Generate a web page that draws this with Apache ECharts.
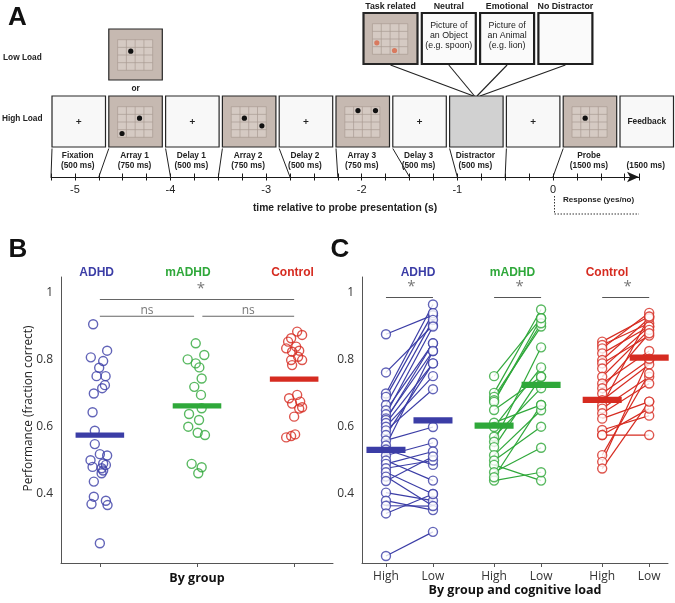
<!DOCTYPE html>
<html>
<head>
<meta charset="utf-8">
<title>Working memory task and performance</title>
<script src="https://cdn.jsdelivr.net/npm/echarts@6.0.0/dist/echarts.min.js"></script>
<style>
html,body{margin:0;padding:0;background:#fff;}
#chart{width:675px;height:603px;}
</style>
</head>
<body>
<div id="chart"></div>
<script>
// ================= DATA =================
// Panel A: trial timeline
const phaseNames = ['Fixation','Array 1','Delay 1','Array 2','Delay 2','Array 3','Delay 3','Distractor','','Probe',''];
const phaseDurations = ['(500 ms)','(750 ms)','(500 ms)','(750 ms)','(500 ms)','(750 ms)','(500 ms)','(500 ms)','','(1500 ms)','(1500 ms)'];
const phaseStarts = [-5.25,-4.75,-4.0,-3.5,-2.75,-2.25,-1.5,-1.0,-0.5,0,null]; // seconds relative to probe
const phaseScreens = ['fix','array','fix','array','fix','array','fix','distractor','fix','array','feedback'];
const arrayItems = {1:[[2,1],[0,3]], 3:[[1,1],[3,2]], 5:[[1,0],[3,0]], 9:[[1,1]]}; // [col,row] of dots
const lowLoadItems = [[1,1]];
const distractorTypes = ['Task related','Neutral','Emotional','No Distractor'];
const distractorTexts = [[],['Picture of','an Object','(e.g. spoon)'],['Picture of','an Animal','(e.g. lion)'],[]];
const taskRelatedItems = [[0,2],[2,3]];
const timeTickLabels = [-5,-4,-3,-2,-1,0];

// Panel B: performance by group (fraction correct) + horizontal jitter (category units)
const groups = ['ADHD','mADHD','Control'];
const bADHD = [0.907,0.828,0.808,0.797,0.777,0.752,0.752,0.725,0.716,0.700,0.644,0.589,0.549,0.519,0.515,0.501,0.481,0.491,0.487,0.477,0.470,0.462,0.437,0.392,0.370,0.380,0.367,0.253];
const bADHDJitter = [-0.069,0.075,-0.093,0.034,-0.007,-0.034,0.059,0.052,0.024,-0.062,-0.075,-0.052,-0.052,0,0.075,-0.096,-0.075,0.034,0.062,0.018,0.034,0.018,-0.062,-0.062,-0.086,0.062,0.079,0];
const bMADHD = [0.850,0.815,0.802,0.790,0.778,0.745,0.720,0.696,0.656,0.639,0.621,0.601,0.583,0.576,0.490,0.480,0.462];
const bMADHDJitter = [-0.013,0.075,-0.096,-0.013,0.024,0.048,-0.028,0.041,0.048,-0.082,0.021,-0.090,0.007,0.082,-0.055,0.048,0.013];
const bControl = [0.885,0.875,0.865,0.855,0.840,0.835,0.828,0.825,0.810,0.800,0.800,0.785,0.696,0.686,0.676,0.670,0.659,0.655,0.631,0.578,0.573,0.569];
const bControlJitter = [0.031,0.082,-0.031,-0.062,0.021,-0.082,0.052,-0.021,0.041,0.082,-0.031,-0.021,0.031,-0.052,0.062,-0.021,0.082,0.052,0,0.010,-0.031,-0.082];
const bMeans = [0.576,0.663,0.743];
const bSignificance = [{from:0,to:2,label:'*'},{from:0,to:0.97,label:'ns'},{from:1.055,to:2,label:'ns'}];

// Panel C: performance by group and cognitive load (paired High / Low)
const loadLabels = ['High','Low'];
const cADHDHigh = [0.877,0.763,0.700,0.690,0.666,0.650,0.638,0.626,0.621,0.612,0.601,0.590,0.576,0.560,0.545,0.533,0.515,0.500,0.490,0.477,0.465,0.452,0.439,0.404,0.380,0.365,0.342,0.215];
const cADHDLow  = [0.934,0.904,0.966,0.940,0.920,0.850,0.900,0.827,0.850,0.790,0.752,0.713,0.790,0.600,0.827,0.487,0.553,0.440,0.527,0.500,0.400,0.364,0.512,0.380,0.352,0.364,0.400,0.287];
const cMADHDHigh = [0.752,0.702,0.690,0.680,0.675,0.651,0.613,0.600,0.571,0.556,0.540,0.516,0.500,0.487,0.465,0.440,0.450];
const cMADHDLow  = [0.925,0.951,0.900,0.910,0.925,0.750,0.666,0.778,0.716,0.838,0.750,0.650,0.601,0.440,0.538,0.465,0.666];
const cControlHigh = [0.855,0.845,0.835,0.820,0.800,0.790,0.775,0.750,0.730,0.716,0.700,0.680,0.665,0.655,0.641,0.625,0.591,0.576,0.576,0.516,0.496,0.476];
const cControlLow  = [0.930,0.910,0.941,0.900,0.925,0.873,0.900,0.890,0.827,0.880,0.800,0.787,0.930,0.750,0.730,0.676,0.634,0.576,0.655,0.760,0.804,0.676];
const cMeansHigh = [0.532,0.604,0.681];
const cMeansLow  = [0.620,0.726,0.807];
const cSignificance = ['*','*','*'];

// ================= LAYOUT / STYLE =================
const COLORS = ['#3b3da6','#2fa83a','#d62b20'];
const FA = '"Liberation Sans", Arial, sans-serif';
const FB = '"Open Sans", "Noto Sans", sans-serif';
const BX0 = 52, BSTEP = 56.8, BW = 53.5, BY = 96, BH = 51;
const OX0 = 363.5, OSTEP = 58.3, OW = 54, OY = 13, OH = 51;
const cSlots = [[0,1],[2.3,3.3],[4.6,5.6]];
const cTickPos = [].concat(...cSlots);

function txt(text, x, y, size, o) {
  o = o || {};
  const al = o.align || 'center', va = o.valign || 'middle';
  const el = {type:'text', silent:true, z: o.z || 10,
    style:{text:text, x:x, y:y, fill:o.fill || '#222',
      font:(o.weight || 'normal') + ' ' + size + 'px ' + (o.family || FA),
      align:al, verticalAlign:va, textAlign:al, textVerticalAlign:va}};
  return el;
}
function line(x1,y1,x2,y2,stroke,w,dash) {
  const s = {stroke:stroke, lineWidth:w};
  if (dash) s.lineDash = dash;
  return {type:'line', silent:true, shape:{x1:x1,y1:y1,x2:x2,y2:y2}, style:s};
}
function screen(kind, x, y, w, h, dots, o) {
  o = o || {};
  const fills = {fix:'#f8f8f8', feedback:'#f8f8f8', blank:'#f8f8f8', array:'#c6b9b1', distractor:'#d1d1d1'};
  const els = [{type:'rect', silent:true, shape:{x:x,y:y,width:w,height:h},
    style:{fill:fills[kind], stroke:'#262626', lineWidth:o.lw || 1.2}}];
  if (kind === 'array') {
    const gx = x + w*0.165, gy = y + h*0.21, gw = w*0.655, gh = h*0.6;
    els.push({type:'rect', silent:true, shape:{x:gx,y:gy,width:gw,height:gh}, style:{fill:'#d5cac3', stroke:'#a99b92', lineWidth:0.7}});
    for (let k=1;k<4;k++) {
      els.push(line(gx+k*gw/4, gy, gx+k*gw/4, gy+gh, '#a99b92', 0.7));
      els.push(line(gx, gy+k*gh/4, gx+gw, gy+k*gh/4, '#a99b92', 0.7));
    }
    (dots || []).forEach(function(d){
      els.push({type:'circle', silent:true, shape:{cx:gx+(d[0]+0.5)*gw/4, cy:gy+(d[1]+0.5)*gh/4, r:2.6}, style:{fill:o.dotColor || '#111'}});
    });
  } else if (kind === 'fix') {
    const cx = x + w/2, cy = y + h/2;
    els.push(line(cx-2.5, cy, cx+2.5, cy, '#222', 1));
    els.push(line(cx, cy-2.5, cx, cy+2.5, '#222', 1));
  } else if (kind === 'feedback') {
    els.push(txt('Feedback', x + w/2, y + h/2, 8.4, {weight:'bold'}));
  }
  return els;
}

// ================= CHART =================
const chart = echarts.init(document.getElementById('chart'), null, {renderer:'canvas'});

const yAxisBC = function(gi) {
  return {gridIndex:gi, type:'value', min:0.194, max:1.048,
    axisLine:{show:true, onZero:false, lineStyle:{color:'#555', width:1}},
    axisTick:{show:false}, splitLine:{show:false},
    axisLabel:{customValues:[0.4,0.6,0.8,1], margin:8, color:'#333', fontSize:12, fontFamily:FB,
      formatter:function(v){ return String(Math.round(v*10)/10); }}};
};

const series = [];

// ---- Panel A: screens, labels, connectors to the time axis ----
series.push({
  type:'custom', xAxisIndex:0, yAxisIndex:0, silent:true, clip:false,
  data: phaseNames.map(function(n,i){ return [phaseStarts[i] == null ? 0 : phaseStarts[i], 0]; }),
  renderItem: function(params, api) {
    const i = params.dataIndex;
    const x = BX0 + i*BSTEP;
    const kids = screen(phaseScreens[i], x, BY, BW, BH, arrayItems[i]);
    if (phaseNames[i]) kids.push(txt(phaseNames[i], x + BW/2 - 1, 155.5, 8.3, {weight:'bold'}));
    if (phaseDurations[i]) kids.push(txt(phaseDurations[i], x + BW/2 - 1, 165.5, 8.3, {weight:'bold'}));
    if (phaseStarts[i] != null) {
      const p = api.coord([phaseStarts[i], 0]);
      kids.push(line(x, BY + BH + 1.5, p[0], p[1], '#222', 1));
    }
    return {type:'group', children:kids};
  }
});

// ---- Panel B ----
series.push({
  type:'custom', xAxisIndex:2, yAxisIndex:1, silent:true, clip:false,
  data: bSignificance.map(function(s,i){ return [s.from, i === 0 ? 0.981 : 0.931, s.to]; }),
  renderItem: function(params, api) {
    const s = bSignificance[params.dataIndex];
    const p1 = api.coord([api.value(0), api.value(1)]), p2 = api.coord([api.value(2), api.value(1)]);
    const isStar = s.label === '*';
    return {type:'group', children:[
      line(p1[0], p1[1], p2[0], p2[1], '#666', 1.1),
      txt(s.label, (p1[0]+p2[0])/2 + (isStar ? 4 : 0), p1[1] - (isStar ? 3 : 6), isStar ? 15 : 12, {fill:'#777', family:FB, valign: isStar ? 'bottom' : 'middle'})
    ]};
  }
});
[[bADHD,bADHDJitter],[bMADHD,bMADHDJitter],[bControl,bControlJitter]].forEach(function(g, gi){
  series.push({
    type:'scatter', xAxisIndex:2, yAxisIndex:1, silent:true,
    symbol:'circle', symbolSize:9,
    itemStyle:{color:'rgba(255,255,255,0)', borderColor:COLORS[gi], borderWidth:1.4},
    data: g[0].map(function(v,i){ return [gi + g[1][i], v]; })
  });
});
series.push({
  type:'custom', xAxisIndex:2, yAxisIndex:1, silent:true, z:5,
  data: bMeans.map(function(m,i){ return [i, m]; }),
  renderItem: function(params, api) {
    const gi = params.dataIndex;
    const a = api.coord([api.value(0) - 0.25, api.value(1)]), b = api.coord([api.value(0) + 0.25, api.value(1)]);
    return {type:'rect', shape:{x:a[0], y:a[1]-2.6, width:b[0]-a[0], height:5.2}, style:{fill:COLORS[gi]}};
  }
});

// ---- Panel C ----
series.push({
  type:'custom', xAxisIndex:3, yAxisIndex:2, silent:true, clip:false,
  data: cSlots.map(function(s){ return [s[0], 0.987, s[1]]; }),
  renderItem: function(params, api) {
    const p1 = api.coord([api.value(0), api.value(1)]), p2 = api.coord([api.value(2), api.value(1)]);
    return {type:'group', children:[
      line(p1[0], p1[1], p2[0], p2[1], '#555', 1.1),
      txt(cSignificance[params.dataIndex], (p1[0]+p2[0])/2 + 2, p1[1] - 3, 15, {fill:'#777', family:FB, valign:'bottom'})
    ]};
  }
});
[[cADHDHigh,cADHDLow],[cMADHDHigh,cMADHDLow],[cControlHigh,cControlLow]].forEach(function(g, gi){
  const xs = cSlots[gi];
  series.push({
    type:'custom', xAxisIndex:3, yAxisIndex:2, silent:true,
    encode:{x:[0,2], y:[1,3]},
    data: g[0].map(function(h,i){ return [xs[0], h, xs[1], g[1][i]]; }),
    renderItem: function(params, api) {
      const a = api.coord([api.value(0), api.value(1)]), b = api.coord([api.value(2), api.value(3)]);
      return line(a[0], a[1], b[0], b[1], COLORS[gi], 1.2);
    }
  });
});
[[cADHDHigh,cADHDLow],[cMADHDHigh,cMADHDLow],[cControlHigh,cControlLow]].forEach(function(g, gi){
  const xs = cSlots[gi];
  series.push({
    type:'scatter', xAxisIndex:3, yAxisIndex:2, silent:true,
    symbol:'circle', symbolSize:9,
    itemStyle:{color:'#ffffff', borderColor:COLORS[gi], borderWidth:1.4},
    data: g[0].map(function(h){ return [xs[0], h]; }).concat(g[1].map(function(l){ return [xs[1], l]; }))
  });
});
series.push({
  type:'custom', xAxisIndex:3, yAxisIndex:2, silent:true, z:5,
  data: cMeansHigh.map(function(m,i){ return [cSlots[i][0], m, i]; }).concat(cMeansLow.map(function(m,i){ return [cSlots[i][1], m, i]; })),
  renderItem: function(params, api) {
    const gi = api.value(2);
    const a = api.coord([api.value(0) - 0.415, api.value(1)]), b = api.coord([api.value(0) + 0.415, api.value(1)]);
    return {type:'rect', shape:{x:a[0], y:a[1]-3.1, width:b[0]-a[0], height:6.2}, style:{fill:COLORS[gi]}};
  }
});

// ---- Static texts / schematic parts ----
const graphics = [];
graphics.push(txt('A', 17.5, 18, 26, {weight:'bold', fill:'#111'}));
graphics.push(txt('B', 18, 250, 26, {weight:'bold', fill:'#111'}));
graphics.push(txt('C', 340, 250, 26, {weight:'bold', fill:'#111'}));
graphics.push(txt('Low Load', 3, 57.5, 8.3, {weight:'bold', align:'left'}));
graphics.push(txt('High Load', 2, 119, 8.3, {weight:'bold', align:'left'}));
screen('array', BX0 + BSTEP, 29, BW, BH, lowLoadItems).forEach(function(e){ graphics.push(e); });
graphics.push(txt('or', BX0 + BSTEP + BW/2, 88.5, 8.3, {weight:'bold'}));
const convergeX = [473.5, 474.5, 477, 480];
distractorTypes.forEach(function(name, k){
  const x = OX0 + k*OSTEP;
  const kind = k === 0 ? 'array' : 'feedbackBlank';
  const els = k === 0 ? screen('array', x, OY, OW, OH, taskRelatedItems, {lw:2.2, dotColor:'#d97a5f'})
                      : [{type:'rect', silent:true, shape:{x:x,y:OY,width:OW,height:OH}, style:{fill:'#fafafa', stroke:'#1e1e1e', lineWidth:2.2}}];
  els.forEach(function(e){ graphics.push(e); });
  graphics.push(txt(name, x + OW/2, 6.8, 8.8, {weight:'bold'}));
  distractorTexts[k].forEach(function(t, j){ graphics.push(txt(t, x + OW/2, 25.3 + j*10.3, 8.8, {fill:'#1a1a1a'})); });
  graphics.push(line(x + OW/2, OY + OH + 1, convergeX[k], BY, '#222', 1.1));
});
graphics.push(txt('time relative to probe presentation (s)', 345, 208.5, 10.3, {weight:'bold'}));
graphics.push(line(554.5, 196, 554.5, 214, '#333', 1, [1.5,1.5]));
graphics.push(line(554.5, 214, 639, 214, '#333', 1, [1.5,1.5]));
graphics.push(txt('Response (yes/no)', 563, 199.5, 8, {weight:'bold', align:'left'}));
// group headers
const bHeaderX = [96.7, 188, 292.5];
const cHeaderX = [418, 512.5, 607];
groups.forEach(function(g, i){
  graphics.push(txt(g, bHeaderX[i], 272.5, 12, {weight:'bold', fill:COLORS[i]}));
  graphics.push(txt(g, cHeaderX[i], 272.5, 12, {weight:'bold', fill:COLORS[i]}));
});
graphics.push({type:'text', silent:true, x:29, y:408.5, rotation:Math.PI/2,
  style:{text:'Performance (fraction correct)', x:0, y:0, fill:'#222', font:'normal 11.8px ' + FB,
    align:'center', verticalAlign:'middle', textAlign:'center', textVerticalAlign:'middle'}});

chart.setOption({
  animation:false,
  backgroundColor:'#ffffff',
  grid:[
    {left:51, top:20, width:588, height:157},
    {left:61, top:277, width:272, height:286},
    {left:362, top:277, width:306, height:286}
  ],
  xAxis:[
    {gridIndex:0, type:'value', position:'bottom', min:-5.25, max:0.9, interval:0.25,
      axisLine:{onZero:false, lineStyle:{color:'#1a1a1a', width:1.2}, symbol:['none','arrow'], symbolSize:[8,12]},
      axisTick:{length:3.5, lineStyle:{color:'#1a1a1a', width:1}},
      axisLabel:{margin:7, color:'#222', fontSize:11, fontFamily:FA,
        formatter:function(v){ const r = Math.round(v*100)/100; return timeTickLabels.indexOf(r) >= 0 ? String(r) : ''; }},
      splitLine:{show:false}},
    {gridIndex:0, type:'value', position:'bottom', min:-5.25, max:0.9, interval:0.25,
      axisLine:{show:false, onZero:false}, axisTick:{inside:true, length:3.5, lineStyle:{color:'#1a1a1a', width:1}},
      axisLabel:{show:false}, splitLine:{show:false}},
    {gridIndex:1, type:'value', min:-0.4, max:2.4,
      axisLine:{onZero:false, lineStyle:{color:'#555', width:1}},
      axisTick:{customValues:[0,1,2], length:4, lineStyle:{color:'#555'}},
      axisLabel:{show:false}, splitLine:{show:false},
      name:'By group', nameLocation:'middle', nameGap:9,
      nameTextStyle:{fontFamily:FB, fontWeight:'bold', fontSize:12.5, color:'#111'}},
    {gridIndex:2, type:'value', min:-0.51, max:6.0,
      axisLine:{onZero:false, lineStyle:{color:'#555', width:1}},
      axisTick:{customValues:cTickPos, length:4, lineStyle:{color:'#555'}},
      axisLabel:{customValues:cTickPos, margin:8, color:'#333', fontSize:12, fontFamily:FB,
        formatter:function(v){
          let k = 0; cTickPos.forEach(function(p, j){ if (Math.abs(p - v) < 1e-6) k = j; });
          return loadLabels[k % 2];
        }},
      splitLine:{show:false},
      name:'By group and cognitive load', nameLocation:'middle', nameGap:21,
      nameTextStyle:{fontFamily:FB, fontWeight:'bold', fontSize:12.5, color:'#111'}}
  ],
  yAxis:[
    {gridIndex:0, type:'value', min:0, max:1, show:false},
    yAxisBC(1),
    yAxisBC(2)
  ],
  series: series,
  graphic: graphics
});
</script>
</body>
</html>
